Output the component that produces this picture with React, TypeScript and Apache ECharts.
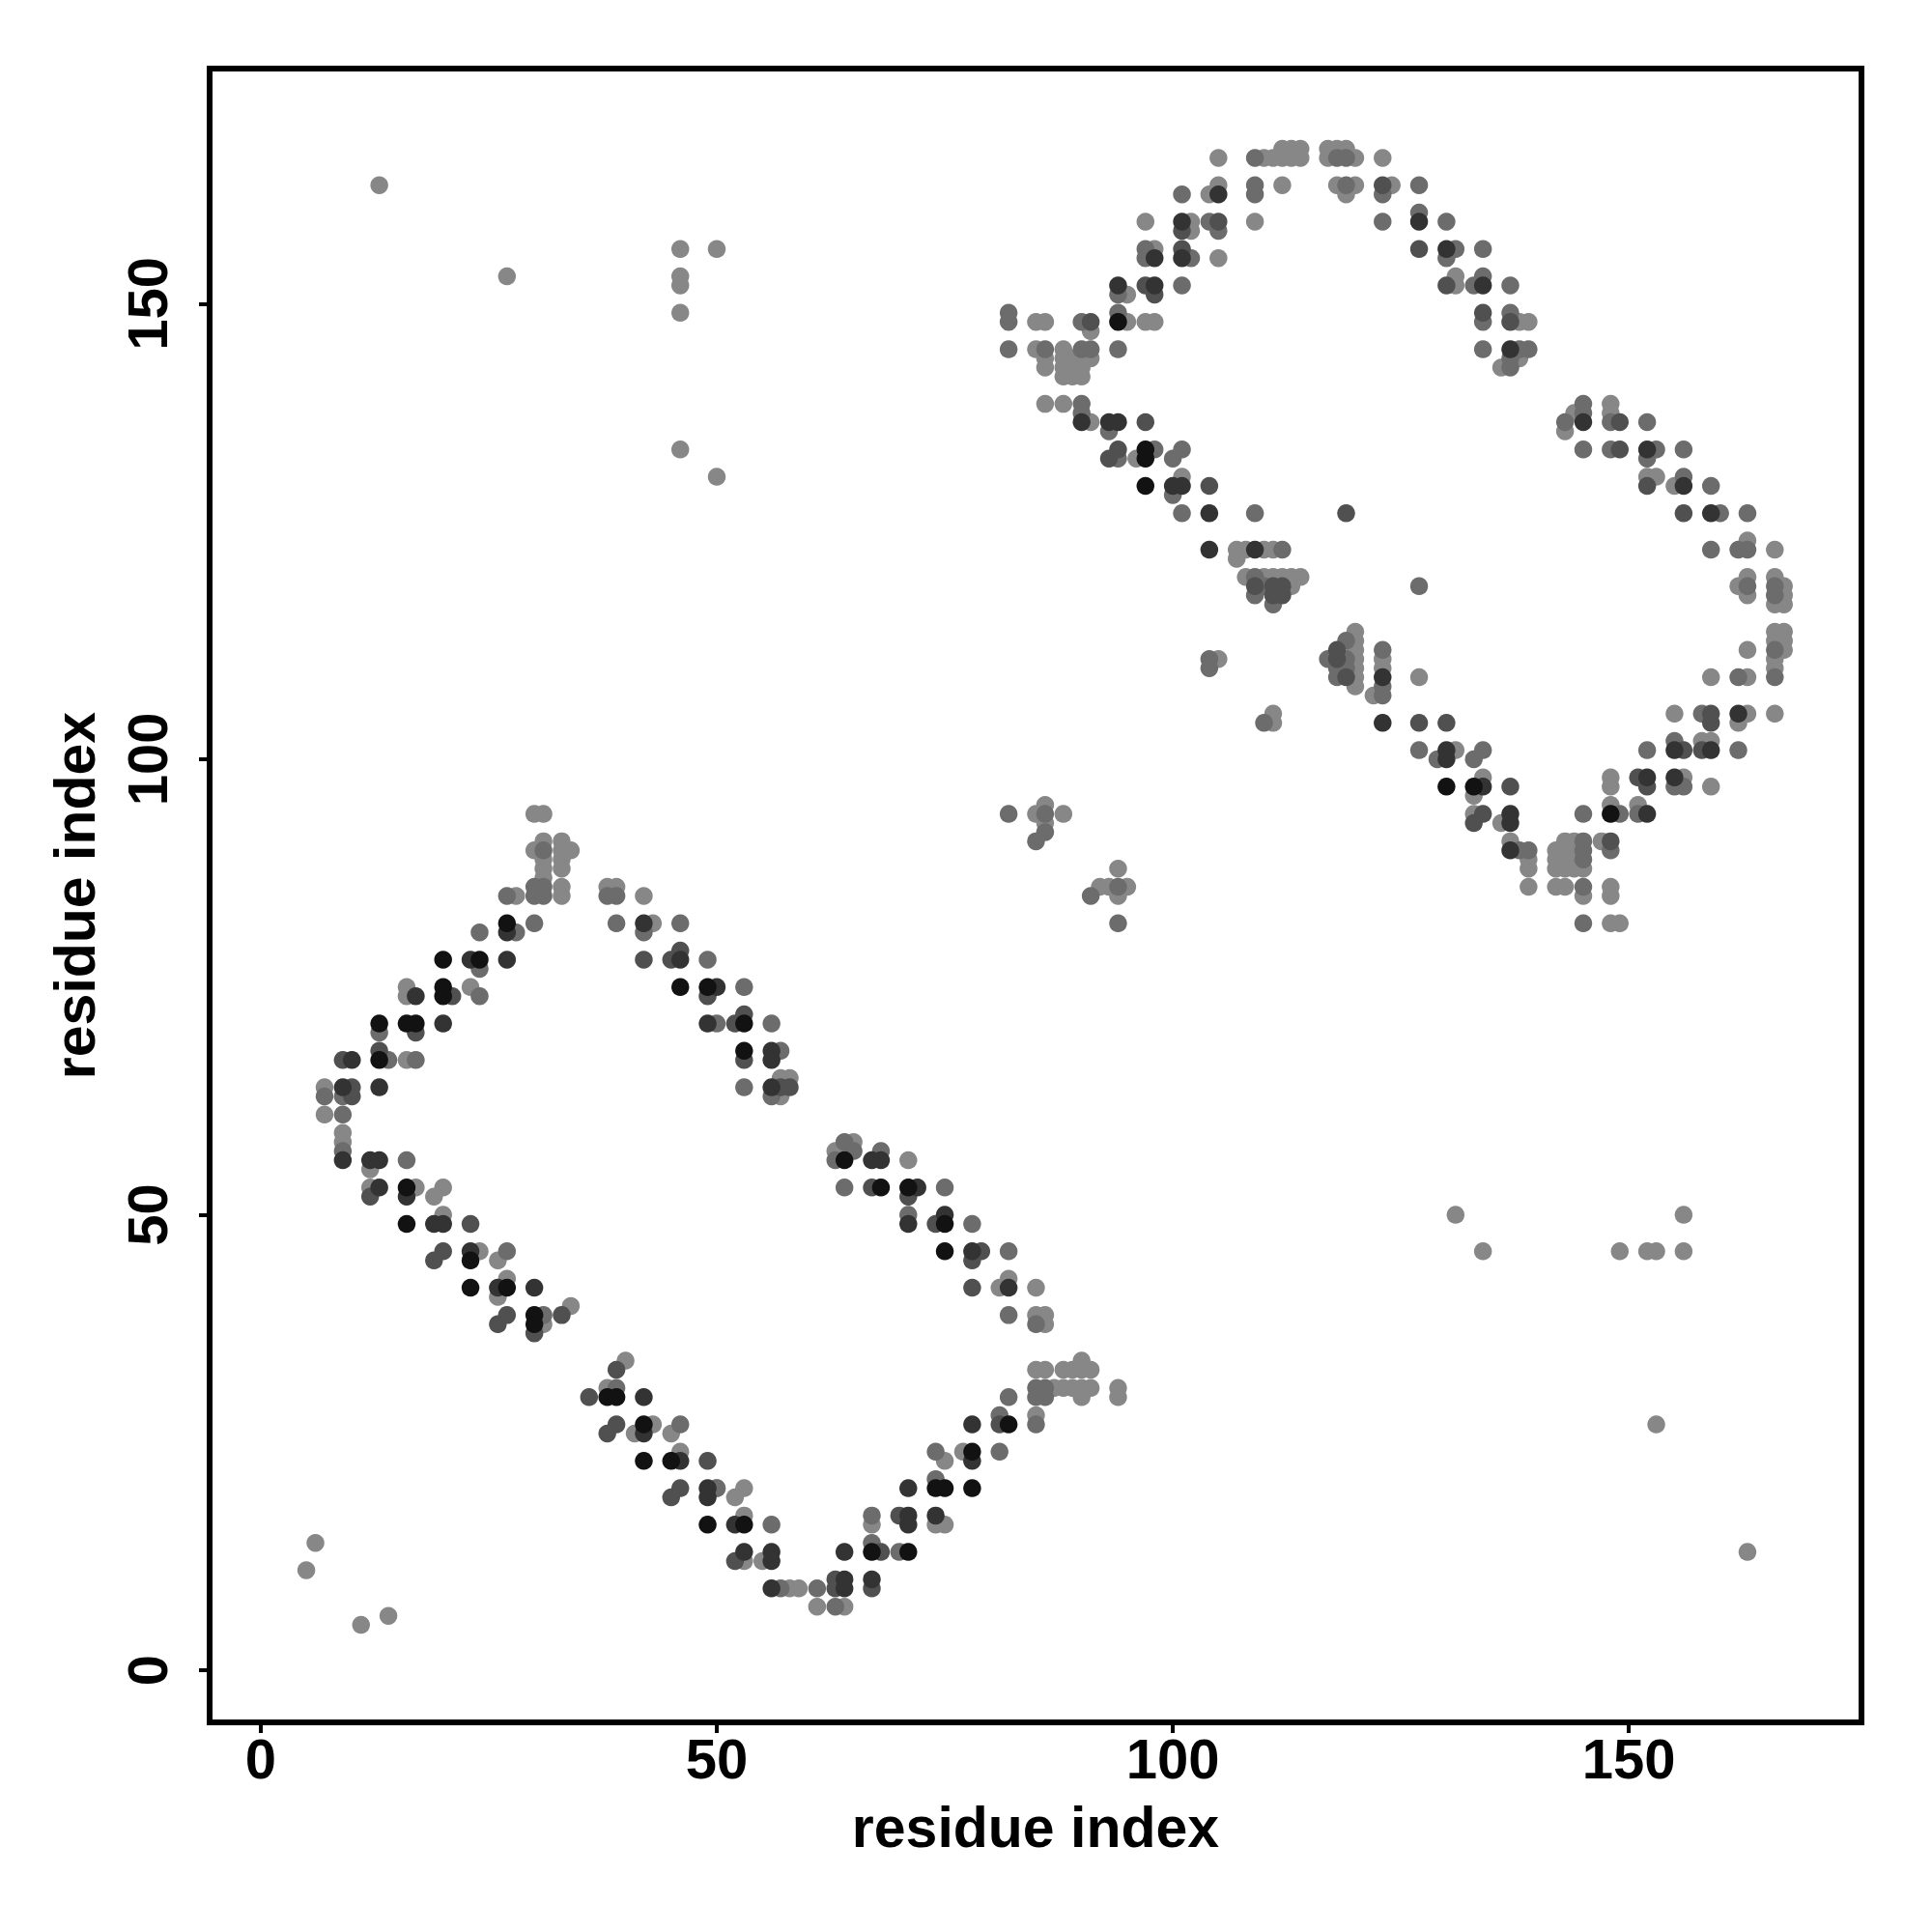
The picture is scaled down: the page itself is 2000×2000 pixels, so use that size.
import React, { useEffect, useRef } from "react";
import * as echarts from "echarts";

type P = [number, number];

const xTicks = [0, 50, 100, 150];
const yTicks = [0, 50, 100, 150];
const axisTitle = "residue index";

// shade order: light, grey, mid, dark, black
const shadeColors = ["#878787", "#6c6c6c", "#505050", "#333333", "#121212"];

const lightPts: P[] = [
  [30,94],[31,94],[30,90],[31,91],[31,89],[31,88],[31,87],[33,91],[33,90],[34,90],[33,89],[33,88],[33,86],[33,85],[28,85],[38,86],[39,86],[42,85],[43,82],[16,75],[16,74],[23,75],[16,67],[7,64],[7,61],[9,59],[9,58],[12,55],[12,53],[17,53],[20,53],[19,52],[20,50],[24,46],[26,45],[27,43],[26,41],[31,38],[34,40],[40,34],[38,31],[41,26],[43,27],[45,26],[46,24],[50,20],[6,14],[5,11],[14,6],[11,5],
  [85,94],[86,95],[86,93],[88,94],[94,88],[92,86],[93,86],[95,86],[94,85],[57,63],[57,65],[58,65],[63,57],[65,58],[71,56],[81,42],[82,43],[85,42],[85,39],[86,39],[86,38],[85,33],[86,33],[88,33],[89,33],[90,34],[90,33],[91,33],[87,31],[88,31],[89,31],[90,31],[91,31],[94,31],[90,30],[94,30],[85,28],[75,23],[77,24],[52,19],[53,20],[53,17],[67,16],[74,16],[75,16],[53,12],[55,12],[58,9],[59,9],[61,7],[64,7],
  [112,167],[113,167],[114,167],[117,167],[118,167],[119,167],[105,166],[110,166],[111,166],[112,166],[113,166],[114,166],[117,166],[120,166],[123,166],[105,163],[112,163],[118,163],[120,163],[124,163],[104,162],[119,162],[97,159],[102,159],[109,159],[102,158],[98,156],[105,155],[131,153],[131,152],[95,151],[85,148],[86,148],[95,148],[97,148],[98,148],[138,148],[139,148],[91,147],[85,145],[88,145],[86,144],[88,144],[89,144],[90,144],[91,144],[138,144],[86,143],[88,143],[89,143],[90,143],[136,143],[88,142],[89,142],[90,142],[86,139],[88,139],[148,139],[144,138],[148,138],[91,137],[143,136],[96,133],[101,131],[152,131],[153,131],[155,130],[163,124],
  [107,123],[108,123],[110,123],[111,123],[107,122],[108,120],[110,120],[111,120],[112,120],[113,120],[114,120],[113,119],[120,114],[120,113],[120,112],[120,111],[120,110],[120,109],[120,108],[123,111],[123,110],[122,107],[105,111],[111,105],[111,104],
  [166,123],[162,119],[163,120],[163,118],[166,120],[166,117],[167,119],[167,118],[167,117],[166,114],[167,114],[166,113],[167,113],[167,112],[166,111],[166,110],[163,112],[159,109],[163,109],[127,109],[155,105],[163,105],[162,104],[166,105],[131,101],[158,102],[159,102],[134,98],[133,96],[148,98],[148,97],[156,98],[159,97],[133,94],[136,93],[148,95],[151,95],[137,91],[142,90],[143,91],[144,91],[143,90],[144,90],[142,89],[143,89],[144,89],[142,88],[143,88],[144,88],[145,88],[139,89],[139,88],[139,86],[142,86],[143,86],[145,85],[147,91],[148,86],[148,85],[148,82],[149,82],
  [13,163],[27,153],[46,156],[50,156],[46,153],[46,152],[46,149],[46,134],[50,131],[131,50],[134,46],[149,46],[152,46],[153,46],[156,46],[156,50],[153,27],[163,13]
];

const greyPts: P[] = [
  [31,90],[30,86],[31,86],[30,85],[31,85],[27,85],[38,85],[39,85],[24,81],[28,81],[30,82],[39,82],[42,81],[46,82],[24,77],[49,78],[24,74],[13,70],[14,67],[17,67],[7,63],[9,63],[9,61],[9,57],[16,56],[50,71],[27,46],[31,39],[39,31],[46,27],
  [82,94],[86,94],[86,92],[85,91],[91,85],[94,86],[94,82],[53,75],[56,71],[57,68],[53,64],[56,63],[64,58],[65,57],[63,56],[68,57],[64,53],[75,53],[71,50],[78,49],[82,46],[82,39],[85,38],[85,31],[86,31],[85,30],[86,30],[82,30],[85,27],[81,28],[81,24],[74,24],[74,21],[50,20],[56,16],[67,17],[67,14],[70,13],[57,9],[61,9],[63,7],
  [109,166],[118,166],[119,166],[109,163],[119,163],[127,163],[101,162],[109,162],[123,162],[127,160],[104,159],[123,159],[130,159],[105,158],[97,156],[131,156],[134,156],[97,155],[102,155],[130,155],[134,153],[101,152],[133,152],[137,152],[94,151],[82,149],[94,149],[137,149],[82,148],[90,148],[134,148],[82,145],[86,145],[90,145],[91,145],[94,145],[134,145],[138,145],[139,145],[137,144],[137,143],[90,139],[145,139],[90,138],[145,138],[143,137],[148,137],[152,137],[93,136],[98,134],[101,134],[145,134],[148,134],[153,134],[156,134],[94,133],[100,133],[152,133],[156,131],[159,130],[100,129],[101,127],[109,127],[160,127],[163,127],
  [112,123],[109,120],[110,119],[109,118],[111,117],[119,113],[117,111],[119,111],[118,110],[119,110],[118,109],[123,112],[123,108],[123,107],[104,111],[104,110],[110,104],
  [159,123],[162,123],[163,123],[127,119],[163,119],[166,119],[166,118],[166,112],[166,109],[162,109],[158,105],[127,101],[129,100],[133,100],[134,101],[152,101],[155,102],[162,101],[155,97],[156,97],[145,94],[149,94],[151,94],[138,90],[139,90],[145,91],[145,90],[145,89],[148,90],[145,86],[145,82]
];

const midPts: P[] = [
  [42,78],[45,78],[46,79],[49,74],[21,74],[17,70],[9,67],[13,68],[10,64],[10,63],[12,52],[23,49],[19,45],[20,46],[26,38],[27,39],[33,39],[30,37],[39,33],[36,30],[38,26],[39,27],[49,23],[46,20],[45,19],
  [52,71],[53,72],[53,67],[57,64],[58,64],[67,53],[71,52],[74,49],[79,46],[78,45],[78,42],[81,27],[70,17],[52,12],[68,13],[63,10],[63,9],[67,9],
  [123,163],[105,159],[101,158],[101,156],[127,156],[97,152],[98,151],[130,152],[134,149],[91,148],[137,148],[97,137],[149,137],[94,134],[149,134],[93,133],[104,130],[152,130],[119,127],[156,127],
  [109,119],[111,119],[112,119],[111,118],[112,118],[118,112],[118,111],[119,109],
  [159,105],[159,104],[127,104],[130,104],[156,101],[158,101],[151,98],[152,97],[137,97],[134,94],[133,93],[148,91]
];

const darkPts: P[] = [
  [27,81],[42,82],[23,78],[27,78],[46,78],[49,71],[17,74],[20,71],[10,67],[9,64],[13,64],[9,56],[12,56],[13,56],[13,53],[16,52],[50,75],[19,49],[20,49],[23,46],[26,42],[30,42],[42,30],[42,26],[46,23],[49,20],[49,19],
  [56,68],[56,67],[56,64],[67,56],[68,56],[72,53],[71,49],[75,50],[78,46],[82,42],[78,27],[78,23],[71,20],[52,16],[71,17],[71,16],[74,17],[53,13],[56,13],[56,12],[64,13],[56,9],[64,10],[64,9],[67,10],
  [105,162],[101,159],[127,159],[130,156],[98,155],[101,155],[94,152],[98,152],[134,152],[137,145],[90,137],[93,137],[94,137],[145,137],[152,134],[100,130],[101,130],[156,130],[104,127],[159,127],
  [104,123],[109,123],[123,109],[123,104],[162,105],[130,101],[130,100],[155,101],[159,101],[134,97],[152,98],[155,98],[137,94],[137,93],[152,94],[137,90]
];

const blackPts: P[] = [
  [27,82],[20,78],[24,78],[46,75],[49,75],[20,75],[20,74],[13,71],[16,71],[17,71],[13,67],[16,53],[16,49],[23,45],[23,42],[27,42],[30,39],[30,38],[38,30],[39,30],[42,27],[42,23],[45,23],[49,16],
  [53,71],[53,68],[64,56],[68,53],[71,53],[75,49],[75,46],[82,27],[78,24],[74,20],[75,20],[78,20],[53,16],[67,13],[71,13],
  [94,148],[97,134],[97,133],[97,130],[130,97],[133,97],[148,94]
];

const groups: P[][] = [lightPts, greyPts, midPts, darkPts, blackPts];

const FONT = "'Liberation Sans', Arial, Helvetica, sans-serif";

export default function App() {
  const ref = useRef<HTMLDivElement>(null);
  useEffect(() => {
    if (!ref.current) return;
    const chart = echarts.init(ref.current, undefined, { renderer: "svg" });
    const labelStyle = {
      fontSize: 58,
      fontWeight: "bold" as const,
      fontFamily: FONT,
      color: "#000",
    };
    chart.setOption({
      animation: false,
      backgroundColor: "#ffffff",
      grid: {
        left: 217,
        top: 71,
        width: 1710,
        height: 1712,
        show: true,
        borderColor: "#000",
        borderWidth: 6,
        backgroundColor: "transparent",
      },
      xAxis: {
        type: "value",
        min: -5.6,
        max: 175.5,
        axisLine: { show: false, onZero: false },
        splitLine: { show: false },
        axisTick: {
          show: true,
          length: 11,
          lineStyle: { color: "#000", width: 4 },
          customValues: xTicks,
        },
        axisLabel: {
          ...labelStyle,
          customValues: xTicks,
          margin: 37,
          verticalAlign: "middle",
        },
      },
      yAxis: {
        type: "value",
        min: -5.7,
        max: 175.8,
        axisLine: { show: false, onZero: false },
        splitLine: { show: false },
        axisTick: {
          show: true,
          length: 11,
          lineStyle: { color: "#000", width: 4 },
          customValues: yTicks,
        },
        axisLabel: {
          ...labelStyle,
          customValues: yTicks,
          rotate: 90,
          margin: 65,
          verticalAlign: "middle",
          align: "center",
        },
      },
      graphic: [
        {
          type: "text",
          x: 1072,
          y: 1892,
          style: {
            text: axisTitle,
            fontSize: 59,
            fontWeight: "bold",
            fontFamily: FONT,
            fill: "#000",
            align: "center",
            verticalAlign: "middle",
          },
        },
        {
          type: "text",
          x: 78,
          y: 927,
          rotation: Math.PI / 2,
          style: {
            text: axisTitle,
            fontSize: 59,
            fontWeight: "bold",
            fontFamily: FONT,
            fill: "#000",
            align: "center",
            verticalAlign: "middle",
          },
        },
      ],
      series: groups.map((pts, i) => ({
        type: "scatter",
        data: pts,
        symbol: "circle",
        symbolSize: 18.5,
        silent: true,
        z: 2 + i,
        itemStyle: { color: shadeColors[i], opacity: 1 },
      })),
    });
    return () => chart.dispose();
  }, []);
  return (
    <div
      ref={ref}
      style={{
        position: "fixed",
        left: 0,
        top: 0,
        width: 2000,
        height: 2000,
        background: "#fff",
      }}
    />
  );
}
